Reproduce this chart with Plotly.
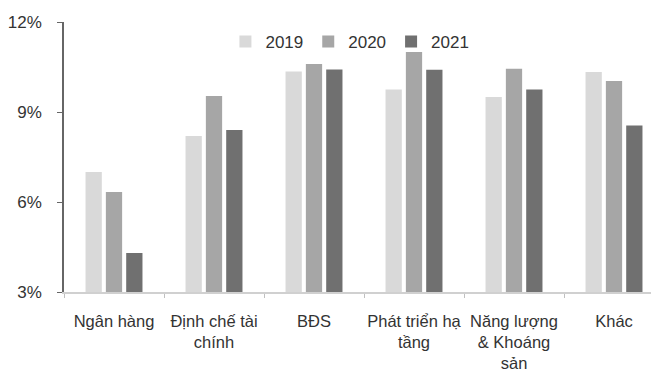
import plotly.graph_objects as go

categories = ["Ngân hàng", "Định chế tài<br>chính", "BĐS", "Phát triển hạ<br>tầng",
              "Năng lượng<br>& Khoáng<br>sản", "Khác"]
series_names = ["2019", "2020", "2021"]
v2019 = [7.0, 8.2, 10.35, 9.75, 9.5, 10.33]
v2020 = [6.33, 9.53, 10.6, 11.0, 10.44, 10.03]
v2021 = [4.3, 8.4, 10.42, 10.41, 9.75, 8.55]
colors = ["#d9d9d9", "#a6a6a6", "#707070"]
y_ticks = [3, 6, 9, 12]
y_tick_labels = ["3%", "6%", "9%", "12%"]

fig = go.Figure()
for name, vals, col in zip(series_names, [v2019, v2020, v2021], colors):
    fig.add_trace(go.Bar(x=categories, y=vals, name=name, marker_color=col,
                         marker_line_width=0, base=0))

font = dict(family="Liberation Sans, Arial, sans-serif", size=17, color="#333333")
fig.update_layout(
    width=651, height=381,
    margin=dict(l=64, r=0, t=22, b=89),
    paper_bgcolor="white", plot_bgcolor="white",
    barmode="group", bargap=0.39, bargroupgap=0.2,
    font=font,
    showlegend=True,
    legend=dict(orientation="h", x=0.275, y=0.926, xanchor="left", yanchor="middle",
                font=dict(size=17, color="#333333"), itemwidth=30,
                bgcolor="rgba(0,0,0,0)", traceorder="normal"),
    xaxis=dict(range=[-0.5, 5.37], showline=True, linecolor="#d0d0d0", linewidth=1.5,
               ticks="outside", tickson="boundaries", ticklen=4, tickcolor="#c0c0c0",
               showgrid=False, tickangle=0, automargin=False, ticklabelstandoff=13,
               tickfont=dict(size=16.5, color="#333333")),
    yaxis=dict(range=[3, 12], tickvals=y_ticks, ticktext=y_tick_labels,
               showline=True, linecolor="#666666", linewidth=1.5, ticks="outside",
               ticklen=5, tickcolor="#666666", showgrid=False, zeroline=False,
               automargin=False,
               ticklabelstandoff=12, tickfont=dict(size=17, color="#333333")),
)
fig.write_html("out.html")
